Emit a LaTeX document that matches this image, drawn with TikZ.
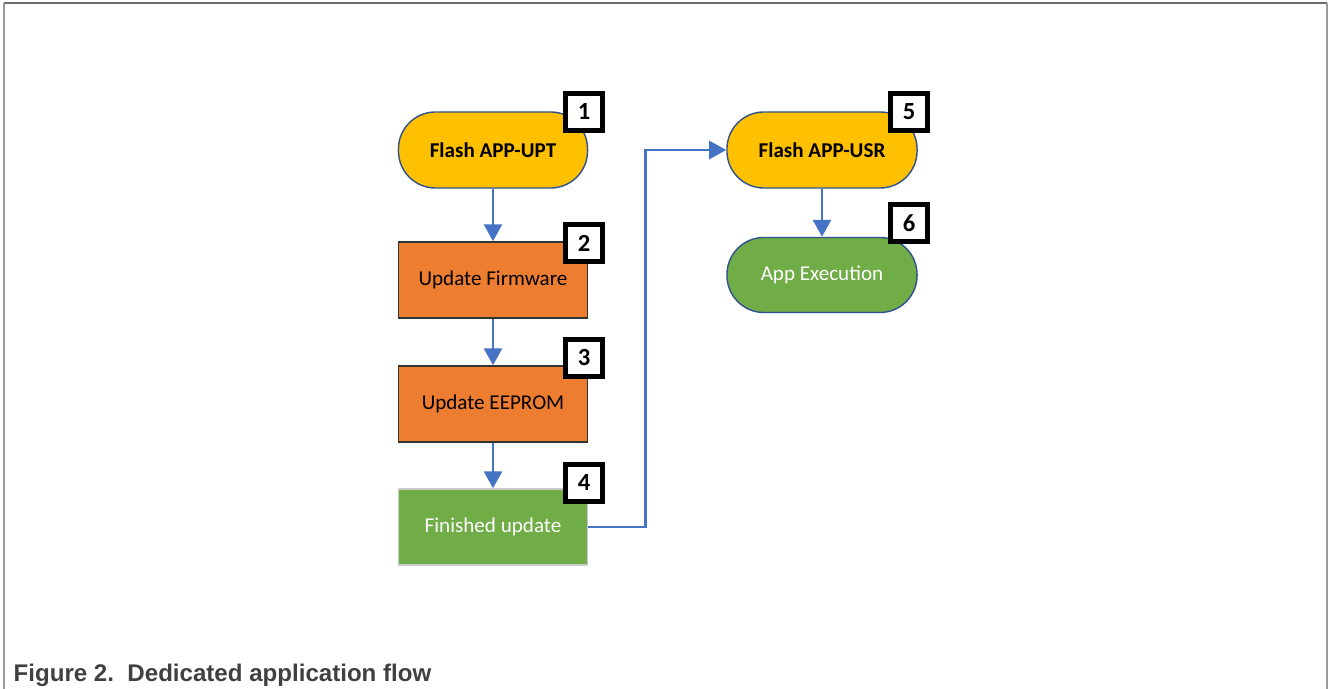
\documentclass[tikz,border=0pt]{standalone}
\usepackage{fontspec}
\setmainfont{Carlito}
\newfontfamily\capfont{Liberation Sans}
\usepackage{tikz}
\usetikzlibrary{arrows.meta,positioning}
\definecolor{flashfill}{HTML}{FFC000}
\definecolor{stepfill}{HTML}{ED7D31}
\definecolor{donefill}{HTML}{70AD47}
\definecolor{edgeblue}{HTML}{2F528F}
\definecolor{flowblue}{HTML}{4472C4}
\definecolor{framegray}{HTML}{9A9A9A}
\definecolor{captext}{HTML}{404040}

\begin{document}
\begin{tikzpicture}[x=0.01cm, y=-0.01cm, every node/.style={font=\fontsize{6}{7}\selectfont, align=center, inner sep=0pt}]
\useasboundingbox (0,0) rectangle (1330,689);
% frame
\draw[framegray!70!black, line width=0.5pt] (4,3) -- (1327,3);
\draw[framegray, line width=0.5pt] (4,3) -- (4,689);
\draw[framegray, line width=0.5pt] (1327,3) -- (1327,689);
% steps
\node[draw=edgeblue, line width=0.4pt, rounded corners=0.37cm, fill=flashfill, minimum width=1.89cm, minimum height=0.76cm] (n1) at (493,150) {\textbf{Flash APP-UPT}};
\node[draw=black!80, line width=0.4pt, fill=stepfill, minimum width=1.89cm, minimum height=0.76cm] (n2) at (493,280) {Update Firmware};
\node[draw=black!80, line width=0.4pt, fill=stepfill, minimum width=1.89cm, minimum height=0.76cm] (n3) at (493,404) {Update EEPROM};
\node[draw=black!20, line width=0.4pt, fill=donefill, text=white, minimum width=1.89cm, minimum height=0.76cm] (n4) at (493,527) {Finished update};
\node[draw=edgeblue, line width=0.4pt, rounded corners=0.37cm, fill=flashfill, minimum width=1.9cm, minimum height=0.76cm] (n5) at (822,150) {\textbf{Flash APP-USR}};
\node[draw=edgeblue, line width=0.4pt, rounded corners=0.37cm, fill=donefill, text=white, minimum width=1.9cm, minimum height=0.75cm] (n6) at (822,275) {App Execution};
% badges
\node[draw, line width=1.4pt, fill=white, minimum size=0.37cm, font=\fontsize{7}{8}\selectfont\bfseries] (b1) at (584,112) {1};
\node[draw, line width=1.4pt, fill=white, minimum size=0.37cm, font=\fontsize{7}{8}\selectfont\bfseries] (b2) at (584,243) {2};
\node[draw, line width=1.4pt, fill=white, minimum size=0.37cm, font=\fontsize{7}{8}\selectfont\bfseries] (b3) at (584,358) {3};
\node[draw, line width=1.4pt, fill=white, minimum size=0.37cm, font=\fontsize{7}{8}\selectfont\bfseries] (b4) at (584,483) {4};
\node[draw, line width=1.4pt, fill=white, minimum size=0.37cm, font=\fontsize{7}{8}\selectfont\bfseries] (b5) at (909,112) {5};
\node[draw, line width=1.4pt, fill=white, minimum size=0.37cm, font=\fontsize{7}{8}\selectfont\bfseries] (b6) at (909,223) {6};
% flow
\draw[-{Triangle[length=0.17cm,width=0.18cm]}, flowblue, line width=0.8pt] (n1) -- (n2);
\draw[-{Triangle[length=0.17cm,width=0.18cm]}, flowblue, line width=0.8pt] (n2) -- (n3);
\draw[-{Triangle[length=0.17cm,width=0.18cm]}, flowblue, line width=0.8pt] (n3) -- (n4);
\draw[-{Triangle[length=0.17cm,width=0.18cm]}, flowblue, line width=0.8pt] (n4.east) -- ++(57,0) |- (n5.west);
\draw[-{Triangle[length=0.17cm,width=0.18cm]}, flowblue, line width=0.8pt] (n5) -- (n6);
% caption
\node[anchor=base west, text=captext, font=\capfont\bfseries\fontsize{6.85}{8}\selectfont] (cap) at (13,682) {Figure 2.\ \ Dedicated application flow};
\end{tikzpicture}
\end{document}
